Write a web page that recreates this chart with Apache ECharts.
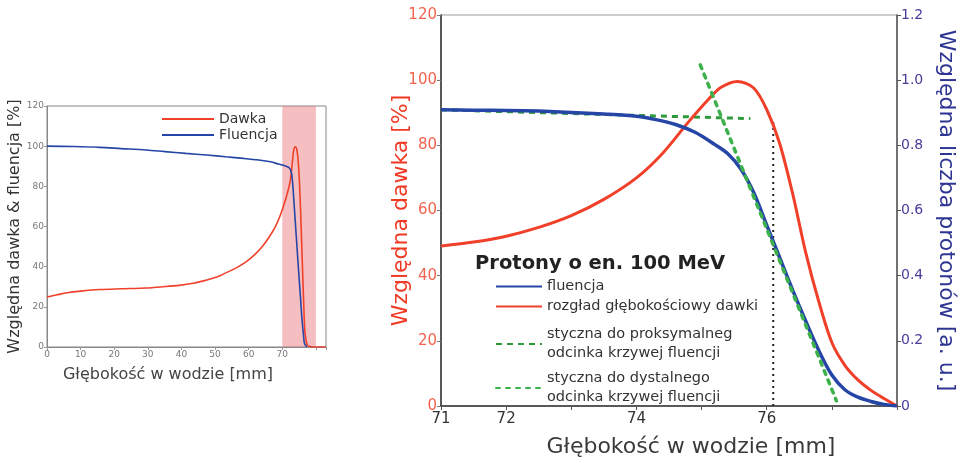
<!DOCTYPE html>
<html>
<head>
<meta charset="utf-8">
<script src="https://cdn.jsdelivr.net/npm/echarts@6/dist/echarts.min.js"></script>
<style>
html,body{margin:0;padding:0;background:#fff;}
#c{width:961px;height:463px;}
</style>
</head>
<body>
<div id="c"></div>
<script>
// ---- Left (overview) chart data ----
const leftFluX = [0, 8, 15.7, 22, 29.5, 35, 41.3, 47.5, 53.2, 58.5, 63, 66.5, 68.9, 70.8, 71.9, 72.5, 72.9, 73.4, 73.9, 74.4, 74.9, 75.4, 75.8, 76.3, 76.6, 77.3];
const leftFluY = [100, 99.8, 99.4, 98.8, 98.1, 97.3, 96.4, 95.6, 94.7, 93.9, 93.1, 92.2, 91.1, 90.2, 89.4, 88, 84.8, 74, 61.5, 49, 36.6, 25, 15, 6, 1.7, 0];
const leftDoseX = [0, 3, 6, 10, 15.7, 22, 29.5, 34.5, 39.3, 43.5, 47.2, 50.5, 53.2, 56.3, 59.2, 61.8, 64, 66, 67.9, 69.5, 70.9, 71.8, 72.4, 73.0, 73.4, 73.9, 74.3, 74.7, 75.1, 75.4, 75.8, 76.1, 76.4, 76.7, 77.1, 77.5, 78.2, 79.2, 83];
const leftDoseY = [24.9, 26.0, 27.0, 27.8, 28.6, 29.0, 29.4, 30.0, 30.7, 31.7, 33.2, 34.8, 36.9, 39.4, 42.4, 46, 49.9, 54.5, 59.8, 66, 73.1, 78.5, 83.1, 92, 98, 99.7, 98.5, 93, 82, 69.8, 50, 34.9, 20, 8.3, 3, 0.8, 0.2, 0, 0];
const leftBand = [70, 80];
const leftXTicks = [0, 10, 20, 30, 40, 50, 60, 70];

// ---- Right (zoomed) chart data ----
const rightFluX = [71, 71.5, 72, 72.5, 73, 73.5, 74, 74.3, 74.6, 74.9, 75.2, 75.4, 75.6, 75.8, 76.0, 76.2, 76.4, 76.6, 76.8, 77.0, 77.2, 77.4, 77.6, 77.8, 78.0];
const rightFluY = [0.909, 0.908, 0.907, 0.905, 0.901, 0.896, 0.889, 0.879, 0.864, 0.840, 0.803, 0.775, 0.728, 0.655, 0.555, 0.455, 0.355, 0.26, 0.17, 0.095, 0.05, 0.027, 0.014, 0.005, 0];
const rightDoseX = [71, 71.5, 72, 72.5, 73, 73.5, 74, 74.4, 74.8, 75.1, 75.3, 75.55, 75.8, 76.0, 76.2, 76.4, 76.6, 76.8, 77.0, 77.2, 77.4, 77.6, 77.8, 78.0];
const rightDoseY = [49.1, 50.3, 52.1, 54.8, 58.4, 63.4, 70.0, 77.5, 87.2, 94.0, 97.8, 99.6, 97.6, 91.0, 80.5, 65.0, 47.0, 32.0, 19.5, 12.5, 8.0, 4.8, 2.3, 0];
const proxTanX = [71, 75.75];
const proxTanY = [0.909, 0.882];
const distTanX = [74.98, 77.07];
const distTanY = [1.047, 0.016];
const rangeX = [76.1, 76.1];
const rangeY = [0, 0.873];
const rightXLabels = [71, 72, 74, 76];

const names = {
  dawka: 'Dawka',
  flu: 'Fluencja',
  rflu: 'fluencja',
  rdose: 'rozgład głębokościowy dawki',
  prox: 'styczna do proksymalneg\nodcinka krzywej fluencji',
  dist: 'styczna do dystalnego\nodcinka krzywej fluencji'
};

const zip = (xs, ys) => xs.map((x, i) => [x, ys[i]]);
const FONT = 'DejaVu Sans';
const RED = '#f0402a';
const BLUE = '#2546a6';
const GREEN = '#3cb04a';

const chart = echarts.init(document.getElementById('c'), null, {renderer: 'canvas'});

const legendText = {fontFamily: FONT, fontSize: 14.5, color: '#333', lineHeight: 19};
const noSym = {opacity: 0};

chart.setOption({
  animation: false,
  backgroundColor: '#fff',
  textStyle: {fontFamily: FONT},
  title: [{
    text: 'Protony o en. 100 MeV',
    left: 470, top: 249,
    textStyle: {fontFamily: FONT, fontSize: 19.5, fontWeight: 'bold', color: '#222'}
  }],
  legend: [
    {data: [names.dawka, names.flu], left: 156, top: 107, orient: 'vertical', itemWidth: 52, itemHeight: 10, itemGap: 2,
     itemStyle: noSym, textStyle: {fontFamily: FONT, fontSize: 14, color: '#333'}},
    {data: [names.rflu], left: 490, top: 272, orient: 'vertical', itemWidth: 46, itemHeight: 10, itemStyle: noSym, textStyle: legendText},
    {data: [names.rdose], left: 490, top: 292, orient: 'vertical', itemWidth: 46, itemHeight: 10, itemStyle: noSym, textStyle: legendText},
    {data: [names.prox], left: 490, top: 320, orient: 'vertical', itemWidth: 46, itemHeight: 10, itemStyle: noSym, textStyle: legendText},
    {data: [names.dist], left: 490, top: 364, orient: 'vertical', itemWidth: 46, itemHeight: 10, itemStyle: noSym, textStyle: legendText}
  ],
  grid: [
    {left: 47, top: 106, width: 279, height: 241, show: true, borderColor: '#888', borderWidth: 1, backgroundColor: 'transparent'},
    {left: 441, top: 15, width: 456, height: 392, show: true, borderColor: '#999', borderWidth: 1, backgroundColor: 'transparent'}
  ],
  xAxis: [
    {gridIndex: 0, type: 'value', min: 0, max: 83, interval: 10,
     axisLine: {lineStyle: {color: '#888', width: 1}},
     axisTick: {show: true, length: 3, lineStyle: {color: '#999'}},
     axisLabel: {fontSize: 9, color: '#777', margin: 3, formatter: v => leftXTicks.includes(v) ? String(v) : ''},
     splitLine: {show: false},
     name: 'Głębokość w wodzie [mm]', nameLocation: 'middle', nameGap: 20, nameMoveOverlap: false,
     nameTextStyle: {fontFamily: FONT, fontSize: 16, color: '#444', padding: [0, 37, 0, 0]}},
    {gridIndex: 1, type: 'value', min: 71, max: 78, interval: 1,
     axisLine: {lineStyle: {color: '#333', width: 1.5}},
     axisTick: {show: true, length: 4, lineStyle: {color: '#555'}},
     axisLabel: {fontSize: 15, color: '#333', margin: 6, formatter: v => rightXLabels.includes(v) ? String(v) : ''},
     splitLine: {show: false},
     name: 'Głębokość w wodzie [mm]', nameLocation: 'middle', nameGap: 30, nameMoveOverlap: false,
     nameTextStyle: {fontFamily: FONT, fontSize: 22, color: '#3a3a3a', padding: [0, 0, 0, 44]}}
  ],
  yAxis: [
    {gridIndex: 0, type: 'value', min: 0, max: 120, interval: 20,
     axisLine: {show: true, lineStyle: {color: '#888', width: 1}},
     axisTick: {show: true, length: 3, lineStyle: {color: '#999'}},
     axisLabel: {fontSize: 9, color: '#777', margin: 3},
     splitLine: {show: false},
     name: 'Względna dawka & fluencja [%]', nameLocation: 'middle', nameGap: 24,
     nameTextStyle: {fontFamily: FONT, fontSize: 16, color: '#333'}},
    {gridIndex: 1, type: 'value', min: 0, max: 120, interval: 20, position: 'left',
     axisLine: {show: true, lineStyle: {color: '#333', width: 1.5}},
     axisTick: {show: true, length: 4, lineStyle: {color: '#777'}},
     axisLabel: {fontSize: 15, color: '#f26450', margin: 4},
     splitLine: {show: false},
     name: 'Względna dawka [%]', nameLocation: 'middle', nameGap: 29, nameMoveOverlap: false,
     nameTextStyle: {fontFamily: FONT, fontSize: 22, color: '#f03a26'}},
    {gridIndex: 1, type: 'value', min: 0, max: 1.2, interval: 0.2, position: 'right',
     axisLine: {show: true, lineStyle: {color: '#555', width: 1.5}},
     axisTick: {show: true, length: 4, lineStyle: {color: '#555'}},
     axisLabel: {fontSize: 14, color: '#4a3d9a', margin: 4, formatter: v => v === 0 ? '0' : v.toFixed(1)},
     splitLine: {show: false},
     name: 'Względna liczba protonów [a. u.]', nameLocation: 'middle', nameGap: 38, nameRotate: -90,
     nameTextStyle: {fontFamily: FONT, fontSize: 22, color: '#2e3592'}}
  ],
  series: [
    {name: names.dawka, type: 'line', xAxisIndex: 0, yAxisIndex: 0, data: zip(leftDoseX, leftDoseY),
     smooth: 0.3, showSymbol: false, symbol: 'none', lineStyle: {color: RED, width: 1.6}, itemStyle: {color: RED}, z: 3},
    {name: names.flu, type: 'line', xAxisIndex: 0, yAxisIndex: 0, data: zip(leftFluX, leftFluY),
     smooth: 0.3, showSymbol: false, symbol: 'none', lineStyle: {color: BLUE, width: 1.6}, itemStyle: {color: BLUE}, z: 4,
     markArea: {silent: true, itemStyle: {color: 'rgba(232,100,105,0.42)'}, data: [[{xAxis: leftBand[0]}, {xAxis: leftBand[1]}]]}},
    {name: names.prox, type: 'line', xAxisIndex: 1, yAxisIndex: 2, data: zip(proxTanX, proxTanY),
     showSymbol: false, symbol: 'none', lineStyle: {color: '#2e9a3c', width: 3, type: [6, 5]}, itemStyle: {color: '#2e9a3c'}, z: 2},
    {name: names.dist, type: 'line', xAxisIndex: 1, yAxisIndex: 2, data: zip(distTanX, distTanY),
     showSymbol: false, symbol: 'none', lineStyle: {color: GREEN, width: 3.5, type: [4, 6], cap: 'round'}, itemStyle: {color: GREEN}, z: 5},
    {name: names.rflu, type: 'line', xAxisIndex: 1, yAxisIndex: 2, data: zip(rightFluX, rightFluY),
     smooth: 0.3, showSymbol: false, symbol: 'none', lineStyle: {color: BLUE, width: 3.5}, itemStyle: {color: BLUE}, z: 4},
    {name: names.rdose, type: 'line', xAxisIndex: 1, yAxisIndex: 1, data: zip(rightDoseX, rightDoseY),
     smooth: 0.3, showSymbol: false, symbol: 'none', lineStyle: {color: RED, width: 3}, itemStyle: {color: RED}, z: 3},
    {name: 'zasięg', type: 'line', xAxisIndex: 1, yAxisIndex: 2, data: zip(rangeX, rangeY),
     showSymbol: false, symbol: 'none', lineStyle: {color: '#222', width: 2, type: [2, 4]}, z: 2}
  ]
});
</script>
</body>
</html>
